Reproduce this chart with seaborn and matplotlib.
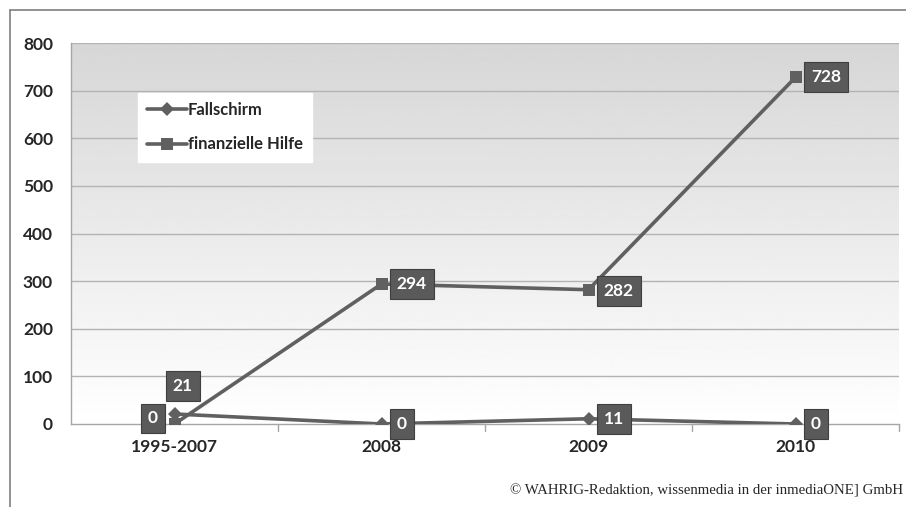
import numpy as np
import pandas as pd
import matplotlib
matplotlib.use("Agg")
import matplotlib.pyplot as plt
from matplotlib.lines import Line2D
import seaborn as sns

categories = ["1995-2007", "2008", "2009", "2010"]
fallschirm = [21, 0, 11, 0]
hilfe = [0, 294, 282, 728]
series_names = ["Fallschirm", "finanzielle Hilfe"]
yticks = [0, 100, 200, 300, 400, 500, 600, 700, 800]

sns.set_style("white")
plt.rcParams["font.family"] = ["Lato", "DejaVu Sans"]

df = pd.DataFrame({
    "Jahr": categories * 2,
    "Wert": fallschirm + hilfe,
    "Serie": [series_names[0]] * 4 + [series_names[1]] * 4,
})

fig = plt.figure(figsize=(9.06, 5.07), dpi=100)
ax = fig.add_axes([71 / 906, 1 - 424 / 507, 828 / 906, 381 / 507])

line_col = "#606060"
sns.lineplot(data=df, x="Jahr", y="Wert", hue="Serie", style="Serie",
             markers={"Fallschirm": "D", "finanzielle Hilfe": "s"},
             dashes=False, palette=[line_col, line_col], sort=False,
             linewidth=2.6, markersize=8, markeredgewidth=0,
             ax=ax, legend=False, zorder=5)
for ln in ax.lines[:1]:
    ln.set_markersize(7)

ax.set_xlim(-0.5, 3.5)
ax.set_ylim(0, 800)
ax.set_yticks(yticks)
ax.set_yticklabels([str(v) for v in yticks], fontsize=12.5, fontweight="bold")
ax.set_xticks(range(len(categories)))
ax.set_xticklabels(categories, fontsize=12.5, fontweight="bold")
ax.set_xlabel("")
ax.set_ylabel("")

# gradient background: gray at top, white at bottom
grad = np.linspace(1.0, 0.84, 256).reshape(-1, 1)
ax.imshow(grad, extent=(-0.5, 3.5, 0, 800), aspect="auto", cmap="gray",
          vmin=0, vmax=1, zorder=0, origin="lower")
ax.set_xlim(-0.5, 3.5)
ax.set_ylim(0, 800)

for y in yticks[1:]:
    ax.axhline(y, color="#b3b3b3", linewidth=1.0, zorder=1)

for s in ["top", "right"]:
    ax.spines[s].set_visible(False)
ax.spines["left"].set_color("#a6a6a6")
ax.spines["bottom"].set_color("#a6a6a6")
ax.spines["left"].set_linewidth(1.0)
ax.spines["bottom"].set_linewidth(1.0)

ax.tick_params(axis="y", length=5, color="#a6a6a6", pad=8)
ax.tick_params(axis="x", length=0, pad=11)
for xm in [0.5, 1.5, 2.5, 3.5]:
    ax.plot([xm, xm], [0, -14], color="#a6a6a6", lw=1.0, clip_on=False, zorder=2)

# data labels
box = dict(boxstyle="square,pad=0.4", facecolor="#5a5a5a", edgecolor="#3f3f3f", linewidth=0.8)
def lab(i, val, dx, dy, ha):
    ax.annotate(str(val), xy=(i, val), xytext=(dx, dy), textcoords="offset points",
                ha=ha, va="center", color="white", fontsize=12.5, fontweight="bold",
                bbox=box, zorder=10)

lab(0, fallschirm[0], 6, 20, "center")
lab(1, fallschirm[1], 11, 0, "left")
lab(2, fallschirm[2], 11, 0, "left")
lab(3, fallschirm[3], 11, 0, "left")
lab(0, hilfe[0], -12, 4, "right")
lab(1, hilfe[1], 11, 0, "left")
lab(2, hilfe[2], 11, -1, "left")
lab(3, hilfe[3], 11, 0, "left")

# legend
handles = [
    Line2D([0], [0], color=line_col, lw=2.6, marker="D", markersize=7, markeredgewidth=0),
    Line2D([0], [0], color=line_col, lw=2.6, marker="s", markersize=8, markeredgewidth=0),
]
leg = ax.legend(handles, series_names, loc="upper left", bbox_to_anchor=(0.081, 0.869),
                frameon=True, fancybox=False, framealpha=1, edgecolor="white",
                facecolor="white", prop={"weight": "bold", "size": 12},
                handlelength=2.4, handletextpad=0.05, labelspacing=1.1,
                borderpad=0.55, borderaxespad=0)
leg.set_zorder(20)

# outer frame lines
fig.add_artist(Line2D([10 / 906, 10 / 906], [1 - 10 / 507, 0], color="#7f7f7f", lw=1.2,
                      transform=fig.transFigure))
fig.add_artist(Line2D([10 / 906, 1.0], [1 - 10 / 507, 1 - 10 / 507], color="#7f7f7f", lw=1.2,
                      transform=fig.transFigure))

fig.text(903 / 906, 1 - 491 / 507, "© WAHRIG-Redaktion, wissenmedia in der inmediaONE] GmbH",
         ha="right", va="center", fontsize=10.7, family=["Liberation Serif", "DejaVu Serif"])

fig.savefig("out.png", dpi=100)
